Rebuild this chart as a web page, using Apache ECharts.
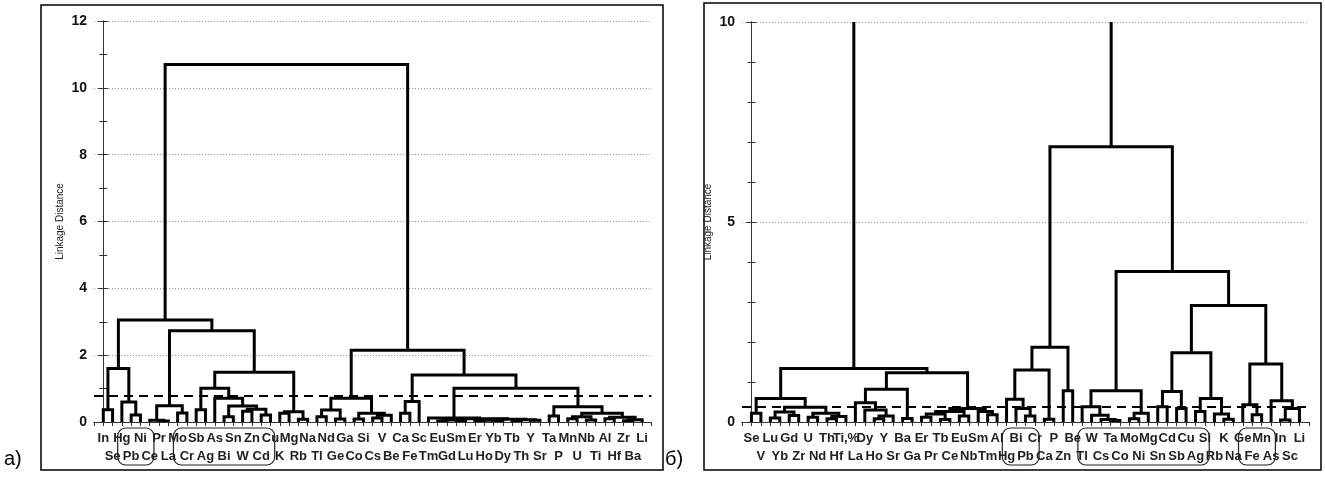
<!DOCTYPE html>
<html>
<head>
<meta charset="utf-8">
<script src="https://cdn.jsdelivr.net/npm/echarts@6/dist/echarts.min.js"></script>
<style>
html,body{margin:0;padding:0;background:#fff;}
#c{width:1325px;height:477px;}
</style>
</head>
<body>
<div id="c"></div>
<script>
// ---------- DATA ----------
const leftLeaves = ['In','Se','Hg','Pb','Ni','Ce','Pr','La','Mo','Cr','Sb','Ag','As','Bi','Sn','W','Zn','Cd','Cu','K',
  'Mg','Rb','Na','Tl','Nd','Ge','Ga','Co','Si','Cs','V','Be','Ca','Fe','Sc','Tm','Eu','Gd','Sm','Lu',
  'Er','Ho','Yb','Dy','Tb','Th','Y','Sr','Ta','P','Mn','U','Nb','Ti','Al','Hf','Zr','Ba','Li'];
// merges: [child A, child B, linkage distance]; numbers refer to earlier merges
const leftMerges = [
  ['In','Se',0.37], ['Pb','Ni',0.21], ['Hg',1,0.6], [0,2,1.6],
  ['Pr','La',0.03], ['Ce',4,0.05], ['Mo','Cr',0.27], [5,6,0.49],
  ['Sb','Ag',0.37], ['Bi','Sn',0.16], ['W','Zn',0.32], ['Cd','Cu',0.21], [10,11,0.38], [9,12,0.48],
  ['As',13,0.71], [8,14,1.01], ['K','Mg',0.26], ['Rb','Na',0.08], [16,17,0.31], [15,18,1.49],
  [7,19,2.73], [3,20,3.05],
  ['Tl','Nd',0.16], ['Ge','Ga',0.09], [22,23,0.36], ['Co','Si',0.09], ['Cs','V',0.12], [26,'Be',0.2],
  [25,27,0.26], [24,28,0.71], ['Ca','Fe',0.26], [30,'Sc',0.61],
  ['Eu','Gd',0.03], ['Sm','Lu',0.04], [32,33,0.06], ['Er','Ho',0.03], ['Yb','Dy',0.02], [35,36,0.05],
  ['Tb','Th',0.03], ['Y','Sr',0.05], [38,39,0.07], [37,40,0.08], [34,41,0.1], ['Tm',42,0.12],
  ['Ta','P',0.18], ['Mn','U',0.1], ['Nb','Ti',0.06], [45,46,0.16], ['Zr','Ba',0.04], [48,'Li',0.07],
  ['Al','Hf',0.1], [50,49,0.14], [47,51,0.26], [44,52,0.46], [43,53,1.01], [31,54,1.41],
  [29,55,2.15], [21,56,10.7]
];
const leftCut = 0.8;
const leftGroups = [['Hg','Ce'], ['Mo','Cu']];
const leftYTicks = [0, 12, 2];

const rightLeaves = ['Se','V','Lu','Yb','Gd','Zr','U','Nd','Th','Hf','Ti,%','La','Dy','Ho','Y','Sr','Ba','Ga','Er','Pr',
  'Tb','Ce','Eu','Nb','Sm','Tm','Al','Hg','Bi','Pb','Cr','Ca','P','Zn','Be','Tl','W','Cs','Ta','Co',
  'Mo','Ni','Mg','Sn','Cd','Sb','Cu','Ag','Si','Rb','K','Na','Ge','Fe','Mn','As','In','Sc','Li'];
const rightMerges = [
  ['Se','V',0.22], ['Lu','Yb',0.1], ['Gd','Zr',0.16], [1,2,0.25], ['U','Nd',0.12], ['Th','Hf',0.08],
  [5,'Ti,%',0.14], [4,6,0.22], [3,7,0.37], [0,8,0.59],
  ['Ho','Y',0.08], [10,'Sr',0.15], ['Dy',11,0.3], ['La',12,0.48], ['Ba','Ga',0.09], [13,14,0.82],
  ['Er','Pr',0.12], ['Tb','Ce',0.06], [16,17,0.2], ['Eu','Nb',0.15], [18,19,0.26], ['Tm','Al',0.18],
  ['Sm',21,0.26], [20,22,0.34], [15,23,1.23], [9,24,1.34],
  ['Pb','Cr',0.15], ['Bi',26,0.34], ['Hg',27,0.57], ['Ca','P',0.07], [28,29,1.3], ['Zn','Be',0.78], [30,31,1.87],
  ['Ta','Co',0.04], ['Cs',33,0.06], ['W',34,0.17], ['Tl',35,0.38], ['Mo','Ni',0.08], [37,'Mg',0.22], [36,38,0.78],
  ['Sn','Cd',0.38], ['Sb','Cu',0.34], [40,41,0.76], ['Ag','Si',0.26], ['K','Na',0.07], ['Rb',44,0.2],
  [43,45,0.59], [42,46,1.73], ['Fe','Mn',0.18], ['Ge',48,0.43], ['In','Sc',0.05], [50,'Li',0.34],
  ['As',51,0.53], [49,52,1.45], [47,53,2.91], [39,54,3.76], [32,55,6.88], [25,56,13]
];
const rightCut = 0.37;
const rightGroups = [['Hg','Cr'], ['Tl','Si'], ['Ge','As']];
const rightYTicks = [0, 10, 5];

// ---------- BUILD ----------
function buildSegments(leaves, merges) {
  const pos = {}; leaves.forEach((n, i) => pos[n] = i);
  const nodes = [];
  const get = r => typeof r === 'number' ? nodes[r] : {x: pos[r], h: 0};
  return merges.map(([a, b, h]) => {
    const A = get(a), B = get(b);
    nodes.push({x: (A.x + B.x) / 2, h: h});
    return [A.x, A.h, B.x, B.h, h];
  });
}
const FONT = "'Liberation Sans', Arial, sans-serif";
const grids = [
  {left: 94, top: 21, width: 557.4, height: 401},
  {left: 742, top: 22, width: 566.9, height: 400}
];
const panels = [
  {leaves: leftLeaves, merges: leftMerges, cut: leftCut, yt: leftYTicks, gap: 29, minor: 2},
  {leaves: rightLeaves, merges: rightMerges, cut: rightCut, yt: rightYTicks, gap: 29, minor: 5}
];
const xAxis = [], yAxis = [], series = [];
panels.forEach((p, gi) => {
  const n = p.leaves.length;
  xAxis.push({
    type: 'value', gridIndex: gi, min: -1, max: n, interval: 1, position: 'bottom',
    axisLine: {show: true, lineStyle: {color: '#333', width: 1}},
    axisTick: {show: false}, splitLine: {show: false},
    axisLabel: {
      show: true, margin: 7, fontFamily: FONT, fontSize: 13, fontWeight: 'bold', color: '#222', lineHeight: 18,
      formatter: v => { const i = Math.round(v); if (i < 0 || i >= n) return ''; return i % 2 ? '\n' + p.leaves[i] : p.leaves[i]; }
    }
  });
  xAxis.push({
    type: 'value', gridIndex: gi, min: -1, max: n, interval: 1, position: 'top',
    axisLine: {show: true, lineStyle: {color: '#333', width: 1}},
    axisTick: {show: true, inside: true, length: 4, lineStyle: {color: '#333'}},
    axisLabel: {show: false}, splitLine: {show: false}
  });
  yAxis.push({
    type: 'value', gridIndex: gi, min: p.yt[0], max: p.yt[1], interval: p.yt[2], position: 'left',
    name: 'Linkage Distance', nameLocation: 'middle', nameGap: p.gap, nameRotate: 90,
    nameTextStyle: {fontFamily: FONT, fontSize: 10, color: '#222'},
    axisLine: {show: true, lineStyle: {color: '#333', width: 1}},
    axisTick: {show: true, inside: true, length: 5, lineStyle: {color: '#333'}},
    minorTick: {show: true, splitNumber: p.minor, length: 4, lineStyle: {color: '#333'}},
    axisLabel: {fontFamily: FONT, fontSize: 14, fontWeight: 'bold', color: '#111', margin: 7},
    splitLine: {show: true, lineStyle: {color: '#999', type: [1, 2], width: 1}}
  });
  yAxis.push({
    type: 'value', gridIndex: gi, min: p.yt[0], max: p.yt[1], interval: p.yt[2], position: 'right',
    axisLine: {show: true, lineStyle: {color: '#333', width: 1}},
    axisTick: {show: true, inside: true, length: 5, lineStyle: {color: '#333'}},
    minorTick: {show: true, splitNumber: p.minor, length: 4, lineStyle: {color: '#333'}},
    axisLabel: {show: false}, splitLine: {show: false}
  });
  series.push({
    type: 'custom', xAxisIndex: gi * 2, yAxisIndex: gi * 2, clip: true,
    data: buildSegments(p.leaves, p.merges),
    encode: {x: [0, 2], y: [1, 3, 4]},
    renderItem: (params, api) => {
      const a = api.coord([api.value(0), api.value(1)]);
      const b = api.coord([api.value(0), api.value(4)]);
      const c = api.coord([api.value(2), api.value(4)]);
      const d = api.coord([api.value(2), api.value(3)]);
      return {type: 'polyline', shape: {points: [a, b, c, d]}, style: {stroke: '#000', lineWidth: 3, fill: null}};
    },
    markLine: {
      silent: true, symbol: 'none', label: {show: false},
      lineStyle: {color: '#000', type: [9, 6], width: 2},
      data: [{yAxis: p.cut}]
    },
    z: 3
  });
});

const chart = echarts.init(document.getElementById('c'), null, {renderer: 'canvas'});
chart.setOption({
  animation: false,
  backgroundColor: '#fff',
  grid: grids,
  xAxis: xAxis,
  yAxis: yAxis,
  series: series
});

// ---------- DECORATIONS ----------
const graphics = [
  {type: 'rect', shape: {x: 41, y: 5, width: 622, height: 465}, style: {fill: null, stroke: '#000', lineWidth: 1.5}, silent: true},
  {type: 'rect', shape: {x: 704, y: 3, width: 617, height: 467}, style: {fill: null, stroke: '#000', lineWidth: 1.5}, silent: true},
  {type: 'text', left: 4, top: 449, style: {text: 'а)', font: '20px ' + FONT, fill: '#000'}},
  {type: 'text', left: 665, top: 449, style: {text: 'б)', font: '20px ' + FONT, fill: '#000'}}
];
[[leftLeaves, leftGroups, 0], [rightLeaves, rightGroups, 1]].forEach(([leaves, groups, gi]) => {
  groups.forEach(([a, b]) => {
    const ia = leaves.indexOf(a), ib = leaves.indexOf(b);
    const p1 = chart.convertToPixel({xAxisIndex: gi * 2, yAxisIndex: gi * 2}, [ia - 0.45, 0]);
    const p2 = chart.convertToPixel({xAxisIndex: gi * 2, yAxisIndex: gi * 2}, [ib + 0.45, 0]);
    graphics.push({type: 'rect', shape: {x: p1[0], y: p1[1] + 6, width: p2[0] - p1[0], height: 37, r: 8},
      style: {fill: null, stroke: '#222', lineWidth: 1.2}, silent: true});
  });
});
chart.setOption({graphic: graphics});
</script>
</body>
</html>
